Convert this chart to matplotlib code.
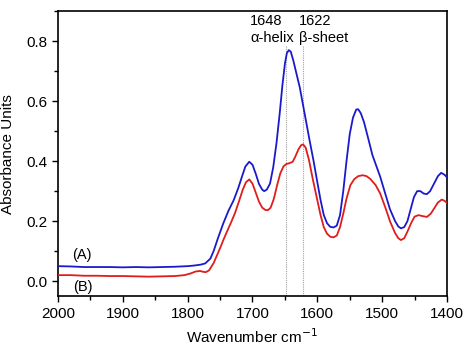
import matplotlib
matplotlib.use("Agg")
import matplotlib.pyplot as plt
from matplotlib.ticker import MultipleLocator

plt.rcParams['font.family'] = ['Liberation Sans', 'DejaVu Sans']

# Spectrum A (blue)
wn_a = [2000, 1980, 1960, 1940, 1920, 1900, 1880, 1860, 1840, 1820, 1800, 1790, 1780,
        1773, 1765, 1760, 1753, 1745, 1737, 1729, 1722, 1716, 1711, 1705,
        1700, 1695, 1690, 1685, 1682, 1678, 1673, 1668, 1663, 1658, 1654, 1650, 1647,
        1644, 1641, 1637, 1632, 1627, 1623, 1618, 1612, 1606, 1600, 1595, 1590, 1585,
        1580, 1575, 1570, 1565, 1560, 1555, 1550, 1545, 1540, 1537, 1533, 1528, 1522,
        1515, 1510, 1503, 1495, 1488, 1480, 1475, 1471, 1466, 1461, 1456, 1451, 1446,
        1441, 1436, 1431, 1426, 1420, 1414, 1409, 1404, 1400]
abs_a = [0.050, 0.049, 0.047, 0.047, 0.047, 0.046, 0.047, 0.046, 0.047, 0.048, 0.050, 0.052, 0.055,
         0.059, 0.075, 0.100, 0.145, 0.193, 0.235, 0.270, 0.310, 0.350, 0.382, 0.398,
         0.388, 0.358, 0.324, 0.305, 0.300, 0.305, 0.325, 0.380, 0.460, 0.560, 0.650, 0.725, 0.760,
         0.770, 0.765, 0.735, 0.690, 0.645, 0.598, 0.540, 0.470, 0.403, 0.330, 0.270, 0.220, 0.193,
         0.181, 0.179, 0.185, 0.220, 0.300, 0.400, 0.490, 0.545, 0.572, 0.573, 0.560, 0.530, 0.480,
         0.420, 0.390, 0.348, 0.290, 0.240, 0.200, 0.182, 0.176, 0.180, 0.200, 0.240, 0.280, 0.300,
         0.300, 0.292, 0.290, 0.300, 0.325, 0.350, 0.361, 0.355, 0.346]

# Spectrum B (red)
wn_b = [2000, 1980, 1960, 1940, 1920, 1900, 1880, 1860, 1840, 1820, 1805, 1795, 1788,
        1781, 1776, 1772, 1767, 1760, 1755, 1750, 1745, 1740, 1733, 1727, 1721, 1715,
        1710, 1705, 1700, 1695, 1690, 1685, 1680, 1676, 1672, 1667, 1662, 1657, 1652,
        1648, 1642, 1638, 1634, 1629, 1625, 1622, 1618, 1613, 1607, 1600, 1595, 1590,
        1585, 1580, 1575, 1570, 1565, 1560, 1555, 1549, 1543, 1537, 1530, 1524, 1518,
        1510, 1503, 1495, 1488, 1480, 1475, 1471, 1466, 1461, 1455, 1450, 1444, 1438,
        1431, 1425, 1419, 1414, 1408, 1404, 1400]
abs_b = [0.020, 0.020, 0.018, 0.018, 0.017, 0.017, 0.016, 0.015, 0.016, 0.017, 0.020, 0.026, 0.032,
         0.034, 0.031, 0.030, 0.036, 0.060, 0.085, 0.110, 0.137, 0.162, 0.196, 0.227, 0.265, 0.305,
         0.330, 0.339, 0.325, 0.295, 0.265, 0.245, 0.237, 0.237, 0.245, 0.275, 0.320, 0.360, 0.383,
         0.390, 0.394, 0.398, 0.415, 0.440, 0.453, 0.456, 0.445, 0.405, 0.340, 0.270, 0.220, 0.180,
         0.158, 0.148, 0.146, 0.152, 0.180, 0.225, 0.275, 0.320, 0.340, 0.350, 0.353, 0.350, 0.340,
         0.320, 0.292, 0.245, 0.200, 0.160, 0.143, 0.137, 0.143, 0.165, 0.195, 0.215, 0.220, 0.217,
         0.214, 0.225, 0.245, 0.262, 0.272, 0.268, 0.261]

band_positions = [1648, 1622]
band_numbers = ["1648", "1622"]
band_names = ["\u03b1-helix", "\u03b2-sheet"]

fig = plt.figure(figsize=(4.74, 3.48), dpi=100)
ax = fig.add_axes([0.1224, 0.149, 0.8206, 0.819])

for pos in band_positions:
    ax.axvline(pos, ymin=0, ymax=0.88, color='#a0a0a0', lw=0.8, ls=(0, (1, 1)), zorder=1)

ax.plot(wn_a, abs_a, color='#1a1acc', lw=1.3, zorder=3, solid_joinstyle='round')
ax.plot(wn_b, abs_b, color='#e01c1c', lw=1.3, zorder=3, solid_joinstyle='round')

ax.set_xlim(2000, 1400)
ax.set_ylim(-0.05, 0.9)
ax.xaxis.set_major_locator(MultipleLocator(100))
ax.xaxis.set_minor_locator(MultipleLocator(50))
ax.yaxis.set_major_locator(MultipleLocator(0.2))
ax.yaxis.set_minor_locator(MultipleLocator(0.1))
ax.tick_params(which='both', direction='out', top=False, right=False, labelsize=11)
ax.tick_params(which='major', length=4, width=1)
ax.tick_params(which='minor', length=3, width=1)
for s in ax.spines.values():
    s.set_linewidth(1.2)

# Band annotations
label_x = [1704, 1628]
for lx, num, name in zip(label_x, band_numbers, band_names):
    ax.text(lx, 0.868, num, fontsize=10.5, ha='left', va='center')
    ax.text(lx, 0.811, name, fontsize=10.5, ha='left', va='center')

ax.text(1978, 0.087, "(A)", fontsize=10.5, ha='left', va='center')
ax.text(1977, -0.019, "(B)", fontsize=10.5, ha='left', va='center')

ax.set_xlabel("Wavenumber cm$^{-1}$", fontsize=11, labelpad=5)
ax.set_ylabel("Absorbance Units", fontsize=11, labelpad=8)

fig.savefig("out.png", dpi=100)
